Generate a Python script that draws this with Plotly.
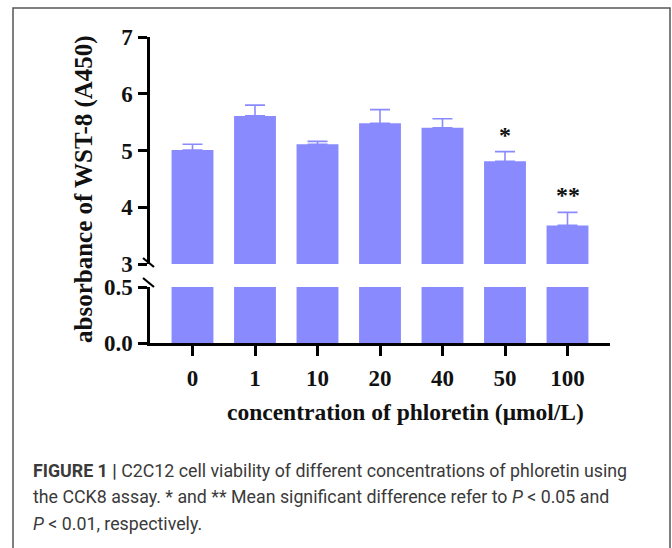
import plotly.graph_objects as go

# ---- data ----
categories = ["0", "1", "10", "20", "40", "50", "100"]
means = [5.01, 5.61, 5.11, 5.48, 5.40, 4.81, 3.68]
errors = [0.10, 0.19, 0.05, 0.24, 0.16, 0.17, 0.23]
sig_labels = ["", "", "", "", "", "*", "**"]
y_upper_ticks = [3, 4, 5, 6, 7]
y_lower_ticks = [0.0, 0.5]
y_lower_ticktext = ["0.0", "0.5"]

# ---- layout geometry (pixels) ----
FW, FH = 672, 548
L, R, T, B = 150, 610, 37, 343
W, H = R - L, B - T

def px(x):
    return (x - L) / W

def py(y):
    return (B - y) / H

BAR = "#8a8aff"
SERIF = "Liberation Serif, Times New Roman, serif"
SANS = "Liberation Sans Narrow, Arial Narrow, Roboto, sans-serif"

lower_top_px = 287
upper_bot_px = 264

fig = go.Figure()
fig.add_trace(go.Bar(x=categories, y=means, marker=dict(color=BAR, line=dict(width=0)),
                     yaxis="y", showlegend=False, hoverinfo="skip"))
fig.add_trace(go.Bar(x=categories, y=means, marker=dict(color=BAR, line=dict(width=0)),
                     yaxis="y2", showlegend=False,
                     error_y=dict(type="data", symmetric=False, array=errors,
                                  arrayminus=[0] * len(errors),
                                  color=BAR, thickness=1.6, width=10)))

annotations = []
for i, (m, e, s) in enumerate(zip(means, errors, sig_labels)):
    if s:
        annotations.append(dict(x=i, y=m + e, xref="x", yref="y2", text="<b>" + s + "</b>",
                                showarrow=False, yanchor="bottom", xanchor="center", yshift=2,
                                font=dict(family=SERIF, size=24, color="#111")))

# axis titles
annotations.append(dict(x=px(84), y=py(189), xref="paper", yref="paper",
                        xanchor="center", yanchor="middle",
                        text="<b>absorbance of WST-8 (A450)</b>", textangle=-90,
                        showarrow=False, font=dict(family=SERIF, size=25, color="#111")))
annotations.append(dict(x=px(405), y=py(412), xref="paper", yref="paper",
                        xanchor="center", yanchor="middle",
                        text="<b>concentration of phloretin (μmol/L)</b>",
                        showarrow=False, font=dict(family=SERIF, size=23.5, color="#111")))

# caption
cap_lines = [
    "<b>FIGURE 1 |</b> C2C12 cell viability of different concentrations of phloretin using",
    "the CCK8 assay. * and ** Mean significant difference refer to <i>P</i> &lt; 0.05 and",
    "<i>P</i> &lt; 0.01, respectively.",
]
for i, t in enumerate(cap_lines):
    annotations.append(dict(x=px(31), y=py(470 + 26.5 * i), xref="paper", yref="paper",
                            text=t, showarrow=False, xanchor="left", yanchor="middle",
                            font=dict(family=SANS, size=17.8, color="#3a3a3a")))

shapes = [
    # frame
    dict(type="rect", xref="paper", yref="paper", x0=px(13), x1=px(670), y0=py(8), y1=py(600),
         line=dict(color="#555", width=1.5), layer="below"),
    # axis break slashes
    dict(type="line", xref="paper", yref="paper", x0=px(143), x1=px(154), y0=py(258), y1=py(267),
         line=dict(color="black", width=2.2)),
    dict(type="line", xref="paper", yref="paper", x0=px(143), x1=px(154), y0=py(278), y1=py(287),
         line=dict(color="black", width=2.2)),
]

tickfont = dict(family=SERIF, size=23, color="#111", weight="bold")
fig.update_layout(
    width=FW, height=FH,
    margin=dict(l=L, r=FW - R, t=T, b=FH - B, pad=0),
    paper_bgcolor="white", plot_bgcolor="white",
    bargap=0.33,
    barmode="overlay",
    xaxis=dict(type="category", range=[-0.68, 6.68], showline=True, linecolor="black",
               linewidth=2.5, ticks="outside", ticklen=10, tickwidth=2.5, tickcolor="black",
               tickfont=tickfont, showgrid=False, zeroline=False, anchor="y",
               ticklabelstandoff=3),
    yaxis=dict(domain=[0, py(lower_top_px)], range=[0, 0.5], tickvals=y_lower_ticks,
               ticktext=y_lower_ticktext, showline=True, linecolor="black", linewidth=2.5,
               ticks="outside", ticklen=9, tickwidth=2.5, tickcolor="black",
               tickfont=tickfont, showgrid=False, zeroline=False, ticklabelstandoff=1),
    yaxis2=dict(domain=[py(upper_bot_px), 1], range=[3, 7], tickvals=y_upper_ticks,
                showline=True, linecolor="black", linewidth=2.5, anchor="x",
                ticks="outside", ticklen=9, tickwidth=2.5, tickcolor="black",
                tickfont=tickfont, showgrid=False, zeroline=False, ticklabelstandoff=1),
    annotations=annotations,
    shapes=shapes,
)

fig.write_html("out.html")
